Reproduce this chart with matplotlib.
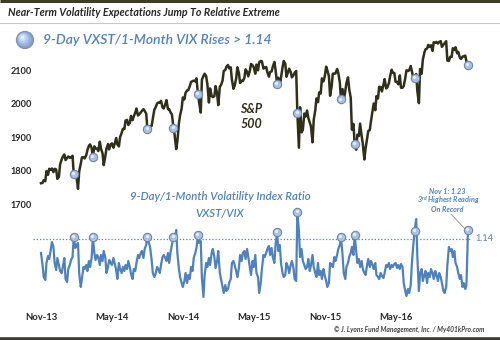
import matplotlib
matplotlib.use("Agg")
import matplotlib.pyplot as plt
import matplotlib.dates as mdates
from matplotlib.patches import Circle
from matplotlib.transforms import offset_copy
import pandas as pd

plt.rcParams["font.family"] = ["Lato", "DejaVu Sans"]

# Sample dates: Tuesday and Friday closes, Nov 1 2013 through Nov 1 2016
fridays = pd.date_range("2013-11-01", "2016-10-28", freq="W-FRI")
tuesdays = pd.date_range("2013-11-05", "2016-11-01", freq="W-TUE")
dates = fridays.append(tuesdays).sort_values()

# S&P 500 closes (one row per month)
spx = [
    1762, 1763, 1771, 1768, 1798, 1787, 1805, 1802, 1806,          # Nov-13
    1795, 1805, 1803, 1775, 1781, 1818, 1833, 1841, 1848,          # Dec-13
    1831, 1837, 1842, 1838, 1839, 1844, 1790, 1792, 1783,          # Jan-14
    1745, 1797, 1820, 1839, 1840, 1836, 1845, 1860,                # Feb-14
    1874, 1878, 1867, 1841, 1872, 1866, 1865, 1858,                # Mar-14
    1886, 1865, 1851, 1816, 1842, 1865, 1879, 1863, 1878,          # Apr-14
    1881, 1868, 1879, 1897, 1878, 1872, 1900, 1912, 1924,          # May-14
    1924, 1949, 1951, 1936, 1942, 1963, 1950, 1961,                # Jun-14
    1973, 1985, 1964, 1968, 1973, 1978, 1983, 1978, 1970,          # Jul-14
    1925, 1920, 1932, 1933, 1955, 1982, 1988, 2000, 2003,          # Aug-14
    2002, 2008, 1988, 1985, 1998, 2010, 1983, 1983, 1972,          # Sep-14
    1968, 1928, 1906, 1864, 1887, 1941, 1965, 1985, 2018,          # Oct-14
    2012, 2032, 2039, 2040, 2052, 2064, 2067, 2068,                # Nov-14
    2066, 2075, 2028, 2002, 1973, 2071, 2082, 2089, 2081,          # Dec-14
    2058, 2003, 2045, 2023, 2019, 2022, 2052, 2030, 1995,          # Jan-15
    2050, 2055, 2068, 2097, 2100, 2110, 2115, 2105,                # Feb-15
    2108, 2071, 2044, 2053, 2075, 2108, 2091, 2061, 2068,          # Mar-15
    2067, 2076, 2102, 2095, 2081, 2097, 2118, 2114,                # Apr-15
    2108, 2089, 2116, 2099, 2123, 2127, 2126, 2104, 2107,          # May-15
    2109, 2093, 2080, 2094, 2096, 2110, 2124, 2101, 2058,          # Jun-15
    2077, 2050, 2077, 2108, 2127, 2119, 2080, 2093, 2104,          # Jul-15
    2094, 2078, 2084, 2092, 2097, 1971, 1868, 1989,                # Aug-15
    1914, 1921, 1970, 1961, 1979, 1958, 1943, 1931, 1884,          # Sep-15
    1951, 1980, 2015, 2004, 2033, 2030, 2075, 2066, 2079,          # Oct-15
    2110, 2099, 2081, 2023, 2051, 2089, 2089, 2090,                # Nov-15
    2103, 2092, 2063, 2012, 2043, 2006, 2038, 2061, 2078,          # Dec-15
    2044, 2017, 1922, 1939, 1880, 1862, 1907, 1903, 1940,          # Jan-16
    1903, 1880, 1833, 1865, 1896, 1918, 1921, 1948,                # Feb-16
    1978, 2000, 1980, 2022, 2015, 2050, 2049, 2036, 2056,          # Mar-16
    2073, 2045, 2048, 2061, 2081, 2101, 2092, 2091, 2065,          # Apr-16
    2064, 2057, 2084, 2047, 2047, 2052, 2076, 2099, 2097,          # May-16
    2099, 2112, 2096, 2075, 2077, 2088, 2037, 2001,                # Jun-16
    2103, 2089, 2130, 2152, 2162, 2164, 2175, 2169, 2174,          # Jul-16
    2157, 2183, 2181, 2184, 2179, 2184, 2186, 2169, 2176,          # Aug-16
    2180, 2186, 2128, 2127, 2139, 2139, 2165, 2160, 2168,          # Sep-16
    2150, 2154, 2137, 2133, 2140, 2141, 2143, 2126,                # Oct-16
    2115,                                                          # Nov-16
]

# 9-day VXST / 1-month VIX ratio on the same dates
ratio = [
    1.00, 0.88, 0.76, 0.73, 0.90, 0.97, 0.94, 1.03, 1.11,          # Nov-13
    1.06, 0.90, 0.83, 0.95, 0.88, 0.82, 0.80, 0.86, 0.95,          # Dec-13
    0.74, 0.71, 0.84, 0.88, 0.93, 0.96, 1.16, 1.05, 1.08,          # Jan-14
    1.10, 0.80, 0.66, 0.74, 0.86, 0.84, 0.88, 0.82,                # Feb-14
    0.92, 0.86, 0.95, 1.16, 1.00, 0.93, 0.98, 0.96,                # Mar-14
    0.88, 0.98, 0.92, 1.02, 0.96, 0.80, 0.86, 0.93, 0.90,          # Apr-14
    0.88, 0.95, 0.90, 0.83, 0.74, 0.90, 0.84, 0.80, 0.86,          # May-14
    0.82, 0.88, 0.84, 0.92, 0.86, 0.79, 0.74, 0.84,                # Jun-14
    0.82, 0.90, 0.98, 0.95, 1.00, 1.02, 0.95, 1.04, 1.08,          # Jul-14
    1.16, 1.10, 1.06, 0.93, 0.80, 0.76, 0.79, 0.86, 0.84,          # Aug-14
    0.80, 0.88, 0.96, 0.98, 0.95, 0.92, 1.00, 0.90, 1.02,          # Sep-14
    1.08, 1.16, 1.12, 1.23, 1.00, 0.84, 0.76, 0.70, 0.66,          # Oct-14
    0.72, 0.80, 0.70, 0.78, 0.74, 0.86, 0.82, 0.95,                # Nov-14
    1.00, 1.05, 1.18, 1.10, 1.12, 0.75, 0.56, 0.78, 0.90,          # Dec-14
    0.86, 0.95, 0.88, 1.00, 1.04, 0.96, 0.85, 0.92, 1.02,          # Jan-15
    0.80, 0.74, 0.66, 0.60, 0.68, 0.62, 0.64, 0.70,                # Feb-15
    0.74, 0.90, 0.92, 0.88, 0.82, 0.76, 0.85, 0.98, 0.92,          # Mar-15
    1.00, 1.02, 0.94, 1.04, 0.96, 0.86, 0.78, 0.92,                # Apr-15
    0.86, 0.98, 0.80, 0.76, 0.60, 0.70, 0.84, 0.98, 0.96,          # May-15
    1.00, 1.04, 1.07, 0.98, 1.05, 0.96, 0.90, 1.08, 1.21,          # Jun-15
    1.02, 1.08, 0.90, 0.80, 0.76, 0.78, 0.90, 0.86, 0.80,          # Jul-15
    0.88, 0.92, 0.85, 0.74, 0.72, 1.41, 1.22, 0.96,                # Aug-15
    1.04, 0.92, 0.88, 0.84, 0.86, 0.94, 0.82, 0.88, 0.98,          # Sep-15
    0.86, 0.80, 0.76, 0.90, 0.78, 0.82, 0.74, 0.84, 0.78,          # Oct-15
    0.72, 0.66, 0.70, 0.90, 0.88, 0.86, 0.96, 0.92,                # Nov-15
    0.98, 1.04, 1.08, 1.16, 0.98, 0.80, 0.74, 0.86, 0.90,          # Dec-15
    0.96, 1.00, 1.06, 0.98, 1.18, 1.02, 0.90, 0.94, 0.86,          # Jan-16
    0.92, 0.84, 0.80, 0.78, 0.88, 0.94, 0.86, 0.92,                # Feb-16
    0.88, 0.84, 0.90, 0.78, 0.76, 0.74, 0.80, 0.77, 0.75,          # Mar-16
    0.80, 0.88, 0.86, 0.90, 0.84, 0.88, 0.86, 0.89, 0.90,          # Apr-16
    0.85, 0.88, 0.84, 0.89, 0.86, 0.70, 0.62, 0.57, 0.64,          # May-16
    0.60, 0.68, 0.90, 1.10, 1.22, 1.34, 0.96, 0.62,                # Jun-16
    0.80, 0.84, 0.72, 0.78, 0.82, 0.70, 0.80, 0.76, 0.84,          # Jul-16
    0.80, 0.74, 0.82, 0.78, 0.72, 0.80, 0.76, 0.70, 0.62,          # Aug-16
    0.60, 0.66, 0.88, 1.06, 1.02, 1.04, 0.96, 1.02, 0.90,          # Sep-16
    0.86, 0.80, 0.74, 0.78, 0.66, 0.70, 0.64, 0.68,                # Oct-16
    1.23,                                                          # Nov-16
]

# Days when the ratio pushed above the threshold
signal_dates = ["2014-01-24", "2014-03-14", "2014-08-01", "2014-10-07",
                "2014-12-09", "2015-06-30", "2015-08-21", "2015-12-11",
                "2016-01-15", "2016-06-17", "2016-11-01"]
threshold = 1.14

x_tick_dates = ["2013-11-01", "2014-05-01", "2014-11-01", "2015-05-01",
                "2015-11-01", "2016-05-01"]
spx_ticks = [1700, 1800, 1900, 2000, 2100]

BLUE = "#4f81bd"
OLIVE = "#30301a"
DARK = "#262626"

n = min(len(dates), len(spx), len(ratio))
s_spx = pd.Series(spx[:n], index=dates[:n])
s_ratio = pd.Series(ratio[:n], index=dates[:n])
sig = pd.to_datetime(signal_dates)

W, H = 500, 340
fig = plt.figure(figsize=(W / 100, H / 100), dpi=100)
fig.patch.set_facecolor("white")

# plotting region in pixels
left_px, right_px, top_px, bot_px = 36, 492, 30, 310
ax = fig.add_axes([left_px / W, (H - bot_px) / H,
                   (right_px - left_px) / W, (bot_px - top_px) / H])
ax2 = ax.twinx()

start = mdates.date2num(pd.Timestamp("2013-11-01"))
px_per_day = 427 / 1096
ax.set_xlim(start - (41 - left_px) / px_per_day,
            start + (right_px - 41) / px_per_day)
ax.set_ylim(2100 - (bot_px - 70) / 0.335, 2100 + (70 - top_px) / 0.335)
ax2.set_ylim(threshold - (bot_px - 239) / 100, threshold + (239 - top_px) / 100)

for a in (ax, ax2):
    for sp in a.spines.values():
        sp.set_visible(False)
    a.patch.set_visible(False)
ax2.set_yticks([])

# S&P 500 line
ax.plot(s_spx.index, s_spx.values, color=OLIVE, lw=1.8, zorder=3,
        solid_joinstyle="round")
# ratio line and threshold
ax2.plot(s_ratio.index, s_ratio.values, color=BLUE, lw=1.6, zorder=3,
         solid_joinstyle="round")
ax2.axhline(threshold, xmin=(33 - left_px) / (right_px - left_px),
            xmax=(470 - left_px) / (right_px - left_px), color=BLUE,
            lw=0.9, ls=(0, (1, 1.6)), clip_on=False, zorder=2)

# signal markers on both series
def bubbles(a, series):
    vals = series.loc[sig]
    a.plot(vals.index, vals.values, "o", ms=6.0, mfc="#a9c2e6", mec="#6f86a8",
           mew=0.8, zorder=5, clip_on=False)
    hl = offset_copy(a.transData, fig=fig, x=-0.6, y=0.6, units="points")
    a.plot(vals.index, vals.values, "o", ms=2.3, mfc="#e6eef9", mec="none",
           zorder=6, transform=hl, clip_on=False)

bubbles(ax, s_spx)
bubbles(ax2, s_ratio)

# axes ticks
ax.set_yticks(spx_ticks)
ax.set_yticklabels([str(v) for v in spx_ticks], fontweight="bold",
                   fontsize=6.6, color=DARK)
xt = pd.to_datetime(x_tick_dates)
ax.set_xticks(mdates.date2num(xt))
ax.set_xticklabels([d.strftime("%b-%y") for d in xt], fontweight="bold",
                   fontsize=6.8, color=DARK)
ax.tick_params(axis="both", length=0)
ax.tick_params(axis="y", pad=3)
ax.tick_params(axis="x", pad=2.5)

# decoration layer in pixel coordinates
deco = fig.add_axes([0, 0, 1, 1], zorder=10)
deco.set_xlim(0, W)
deco.set_ylim(H, 0)
deco.axis("off")

deco.plot([0, W], [1.2, 1.2], color="#3c3c28", lw=2.2, solid_capstyle="butt")
deco.plot([0, W], [22.5, 22.5], color="#c8c8c8", lw=0.8)
deco.plot([0, W], [338.5, 338.5], color="#3c3c28", lw=2.6, solid_capstyle="butt")

deco.text(8, 12, "Near-Term Volatility Expectations Jump To Relative Extreme",
          fontsize=7.7, fontweight="bold", style="italic", color=DARK,
          va="center", ha="left")

# legend bubble
for r, c, dx in [(8.6, "#7f9fcf", 0), (7.0, "#97b3de", -0.8), (5.2, "#b3c9ea", -1.6),
                 (3.4, "#ccdcf2", -2.2), (1.8, "#e7effa", -2.6)]:
    deco.add_patch(Circle((25 + dx, 40 + dx), r, facecolor=c, edgecolor="none"))
deco.add_patch(Circle((25, 40), 8.6, facecolor="none", edgecolor="#8a93a3", lw=0.8))
deco.text(43, 40, "9-Day VXST/1-Month VIX Rises > 1.14", fontsize=10,
          fontweight="semibold", style="italic", color=BLUE, va="center",
          ha="left")

deco.text(251, 109, "S&P", fontsize=9, fontweight="bold", style="italic",
          color=OLIVE, ha="center", va="center")
deco.text(251, 123.5, "500", fontsize=9, fontweight="bold", style="italic",
          color=OLIVE, ha="center", va="center")

deco.text(220, 197, "9-Day/1-Month Volatility Index Ratio", fontsize=8.2,
          fontweight="semibold", style="italic", color=BLUE, ha="center",
          va="center")
deco.text(220, 213, "VXST/VIX", fontsize=8.2, fontweight="semibold",
          style="italic", color=BLUE, ha="center", va="center")

deco.text(447, 191, "Nov 1: 1.23", fontsize=5.2, fontweight="bold",
          style="italic", color=BLUE, ha="center", va="center")
deco.text(448, 200.5, r"3$^{\mathregular{rd}}$ Highest Reading", fontsize=5.2,
          fontweight="bold", style="italic", color=BLUE, ha="center", va="center")
deco.text(447, 210, "On Record", fontsize=5.2, fontweight="bold",
          style="italic", color=BLUE, ha="center", va="center")
deco.plot([451, 465], [214, 229], color="#8c8c8c", lw=0.6)

deco.text(475, 238.5, "1.14", fontsize=6.6, color="#5b7fb5", ha="left",
          va="center")

deco.text(484, 329, "\u00a9 J. Lyons Fund Management, Inc. / My401kPro.com",
          fontsize=4.8, fontweight="bold", style="italic", color="#404040",
          ha="right", va="center")

fig.savefig("out.png", dpi=100, facecolor="white")
